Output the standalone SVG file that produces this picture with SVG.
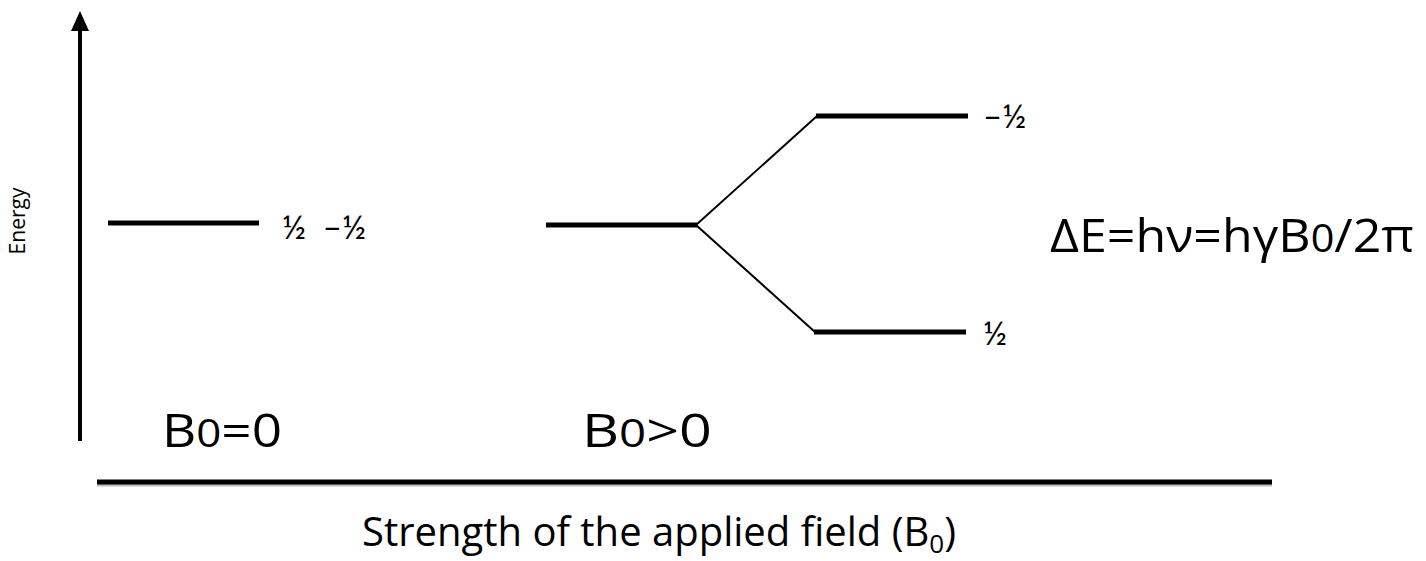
<svg xmlns="http://www.w3.org/2000/svg" width="1426" height="561" viewBox="0 0 1426 561">
<style>
.lvl{stroke:#000;stroke-width:5;fill:none}
.thin{stroke:#000;stroke-width:2;fill:none}
.frac{font-family:"Lato","DejaVu Sans",sans-serif;font-size:33px;fill:#000}
.big{font-family:"Open Sans","DejaVu Sans",sans-serif;font-size:46px;fill:#000}
.axis{font-family:"Open Sans","Liberation Sans",sans-serif;fill:#000}
</style>
<rect width="1426" height="561" fill="#fff"/>
<g id="axes">
<line x1="80" y1="441" x2="80" y2="30" stroke="#000" stroke-width="4"/>
<path d="M71,31 L80,11 L89,31 Z" fill="#000"/>
<line x1="97" y1="485" x2="1272" y2="485" stroke="#bbb" stroke-width="3"/>
<line x1="97" y1="482" x2="1272" y2="482" stroke="#000" stroke-width="5"/>
</g>
<g id="energy-label"><text class="axis" font-size="21" transform="translate(25,221) rotate(-90)" text-anchor="middle">Energy</text></g>
<g id="field-label"><text class="axis" font-size="40" x="362" y="546">Strength of the applied field (B<tspan font-size="26" dy="7">0</tspan><tspan dy="-7">)</tspan></text></g>
<g id="level-b0-zero">
<line class="lvl" x1="108" y1="223" x2="259" y2="223"/>
<text class="frac" x="282" y="239" xml:space="preserve">½  –½</text>
</g>
<g id="level-degenerate"><line class="lvl" x1="546" y1="225" x2="697" y2="225"/></g>
<g id="level-upper">
<line class="lvl" x1="816" y1="116" x2="968" y2="116"/>
<text class="frac" x="983" y="128">–½</text>
</g>
<g id="level-lower">
<line class="lvl" x1="814" y1="332" x2="966" y2="332"/>
<text class="frac" x="983" y="345">½</text>
</g>
<g id="connectors">
<line class="thin" x1="696" y1="225" x2="817" y2="116"/>
<line class="thin" x1="696" y1="225" x2="815" y2="332"/>
</g>
<g id="label-b0-zero"><text class="big" x="162" y="447" textLength="120" lengthAdjust="spacingAndGlyphs">B<tspan font-size="38">0</tspan>=0</text></g>
<g id="label-b0-pos"><text class="big" x="582" y="447" textLength="130" lengthAdjust="spacingAndGlyphs">B<tspan font-size="38">0</tspan>&gt;0</text></g>
<g id="equation"><text class="big" x="1050" y="252" textLength="364" lengthAdjust="spacingAndGlyphs">ΔE=hν=hγB<tspan font-size="38">0</tspan>/2π</text></g>
</svg>
